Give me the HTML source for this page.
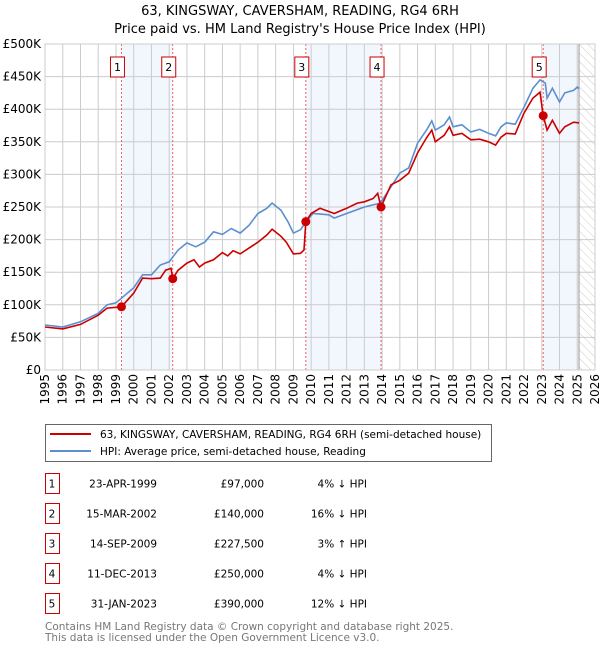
<!DOCTYPE html>
<html><head><meta charset="utf-8"><style>
body{margin:0;background:#fff;}
svg text{font-family:"DejaVu Sans","Liberation Sans",sans-serif;}
</style></head><body>
<svg id="chart" width="600" height="650" xmlns="http://www.w3.org/2000/svg">
<text x="300" y="15" text-anchor="middle" font-size="13">63, KINGSWAY, CAVERSHAM, READING, RG4 6RH</text>
<text x="300" y="33" text-anchor="middle" font-size="13">Price paid vs. HM Land Registry's House Price Index (HPI)</text>
<defs><pattern id="hatch" width="6" height="6" patternUnits="userSpaceOnUse" patternTransform="rotate(-45)"><line x1="0" y1="0" x2="0" y2="6" stroke="#ccc" stroke-width="1"/></pattern></defs>
<g id="shade"></g><g id="grid"></g><g id="lines"></g><g id="marks"></g>
<g>
<rect x="45.5" y="424.5" width="446" height="37" fill="#fff" stroke="#666"/>
<line x1="50" y1="434" x2="91" y2="434" stroke="#cc0000" stroke-width="2"/>
<text x="100" y="438" font-size="10.5">63, KINGSWAY, CAVERSHAM, READING, RG4 6RH (semi-detached house)</text>
<line x1="50" y1="451" x2="91" y2="451" stroke="#5b8fd0" stroke-width="2"/>
<text x="100" y="455" font-size="10.5">HPI: Average price, semi-detached house, Reading</text>
</g>
<g id="table"></g>
<text x="45" y="630" font-size="10.5" fill="#777">Contains HM Land Registry data © Crown copyright and database right 2025.</text>
<text x="45" y="641" font-size="10.5" fill="#777">This data is licensed under the Open Government Licence v3.0.</text>
</svg>
<script>
const hpiYears=[1995,1996,1997,1998,1998.5,1999,2000,2000.5,2001,2001.5,2002,2002.5,2003,2003.5,2004,2004.5,2005,2005.5,2006,2006.5,2007,2007.5,2007.8,2008.3,2008.7,2009,2009.4,2009.7,2010.1,2011,2011.3,2012,2013,2013.9,2014.5,2015,2015.5,2016,2016.5,2016.8,2017,2017.5,2017.8,2018,2018.5,2019,2019.5,2020,2020.4,2020.7,2021,2021.5,2022,2022.5,2022.9,2023.2,2023.3,2023.6,2024,2024.3,2024.8,2025,2025.1];
const hpiValues=[69,66,74,87,100,103,126,146,146,161,166,184,195,189,196,212,208,217,210,222,240,248,256,245,227,210,215,227,240,238,233,240,250,256,281,302,310,348,368,382,368,376,388,373,376,365,369,363,359,373,379,377,403,432,445,440,417,432,411,425,429,434,431];
const priceYears=[1995,1996,1997,1998,1998.5,1999.31,2000,2000.5,2001,2001.5,2001.8,2002.1,2002.2,2002.5,2003,2003.4,2003.7,2004,2004.5,2005,2005.3,2005.6,2006,2006.5,2007,2007.5,2007.8,2008.3,2008.6,2009,2009.4,2009.6,2009.7,2010,2010.5,2011.3,2012,2012.6,2013,2013.5,2013.75,2013.94,2014.5,2015,2015.5,2016,2016.5,2016.8,2017,2017.5,2017.8,2018,2018.5,2019,2019.5,2020,2020.4,2020.7,2021,2021.5,2022,2022.5,2022.9,2023.08,2023.3,2023.6,2024,2024.3,2024.8,2025.1];
const priceValues=[66,63,70,84,95,97,118,141,140,141,153,156,140,153,164,169,158,164,169,180,175,183,178,187,196,207,216,205,196,178,179,184,227.5,240,248,240,248,256,258,263,271,250,284,291,302,333,356,368,350,360,373,360,363,353,354,350,345,357,363,362,394,417,426,390,368,383,363,373,380,379];
const saleLabels=["1","2","3","4","5"];
const saleYears=[1999.31,2002.2,2009.7,2013.94,2023.08];
const saleValues=[97,140,227.5,250,390];
const saleDates=["23-APR-1999","15-MAR-2002","14-SEP-2009","11-DEC-2013","31-JAN-2023"];
const salePrices=["£97,000","£140,000","£227,500","£250,000","£390,000"];
const salePcts=["4% ↓ HPI","16% ↓ HPI","3% ↑ HPI","4% ↓ HPI","12% ↓ HPI"];
const yTicks=[0,50,100,150,200,250,300,350,400,450,500];
const yTickLabels=["£0","£50K","£100K","£150K","£200K","£250K","£300K","£350K","£400K","£450K","£500K"];
const xTicks=[1995,1996,1997,1998,1999,2000,2001,2002,2003,2004,2005,2006,2007,2008,2009,2010,2011,2012,2013,2014,2015,2016,2017,2018,2019,2020,2021,2022,2023,2024,2025,2026];
const dataEnd=2025.1;
const NS="http://www.w3.org/2000/svg";
const L=45,R=595,T=44,B=370;
const X=y=>L+(y-1995)/31*(R-L);
const Y=v=>B-v/500*(B-T);
function mk(tag,attrs,parent){const e=document.createElementNS(NS,tag);for(const k in attrs)e.setAttribute(k,attrs[k]);parent.appendChild(e);return e;}
const shade=document.getElementById('shade'),grid=document.getElementById('grid'),lines=document.getElementById('lines'),marks=document.getElementById('marks'),table=document.getElementById('table');
[[0,1],[2,3]].forEach(([a,b])=>{const r=mk('rect',{x:X(saleYears[a]),y:T,width:X(saleYears[b])-X(saleYears[a]),height:B-T,fill:'#f2f6fd'},shade);

});
const r5=mk('rect',{x:X(saleYears[4]),y:T,width:X(dataEnd)-X(saleYears[4]),height:B-T,fill:'#f2f6fd'},shade);


const h=mk('rect',{x:X(dataEnd),y:T,width:R-X(dataEnd),height:B-T,fill:'url(#hatch)'},shade);


yTicks.forEach((v,i)=>{mk('line',{x1:L,x2:R,y1:Y(v),y2:Y(v),stroke:'#ccc'},grid);
const t=mk('text',{x:L-4,y:Y(v)+4,'text-anchor':'end','font-size':12},grid);t.textContent=yTickLabels[i];

});
xTicks.forEach(yr=>{mk('line',{x1:X(yr),x2:X(yr),y1:T,y2:B,stroke:'#ccc'},grid);
const t=mk('text',{x:0,y:0,'text-anchor':'end','font-size':12,transform:`translate(${X(yr)+4},${B+4}) rotate(-90)`},grid);t.textContent=yr;

});
mk('line',{x1:X(dataEnd),x2:X(dataEnd),y1:T,y2:B,stroke:'#999'},grid);
saleYears.forEach((yr,i)=>{mk('line',{x1:X(yr),x2:X(yr),y1:T,y2:B,stroke:'#f06060','stroke-dasharray':'2,2','stroke-width':1},grid);
const bx=mk('rect',{x:X(yr)-11,y:57,width:14,height:20,fill:'#fff',stroke:'#cc0000'},marks);


const t=mk('text',{x:X(yr)-4,y:71,'text-anchor':'middle','font-size':11},marks);t.textContent=saleLabels[i];});
const pts=(xs,vs)=>xs.map((x,i)=>X(x).toFixed(1)+','+Y(vs[i]).toFixed(1)).join(' ');
const hl=mk('polyline',{points:pts(hpiYears,hpiValues),fill:'none',stroke:'#5b8fd0','stroke-width':1.6},lines);


const pl=mk('polyline',{points:pts(priceYears,priceValues),fill:'none',stroke:'#cc0000','stroke-width':1.6},lines);


saleYears.forEach((yr,i)=>{const c=mk('circle',{cx:X(yr),cy:Y(saleValues[i]),r:4.5,fill:'#cc0000'},marks);

});
mk('rect',{x:L,y:T,width:R-L,height:B-T,fill:'none',stroke:'#ccc'},grid);
saleDates.forEach((d,i)=>{const cy=483+i*30;
const b=mk('rect',{x:45.5,y:cy-9.5,width:14,height:20,fill:'#fff',stroke:'#cc0000'},table);


const vals=[[saleLabels[i],52,'middle'],[d,157,'end'],[salePrices[i],264,'end'],[salePcts[i],367,'end']];
vals.forEach(([s,x,a])=>{const t=mk('text',{x:x,y:cy+4.5,'text-anchor':a,'font-size':10.5},table);t.textContent=s;});});
</script>
</body></html>
